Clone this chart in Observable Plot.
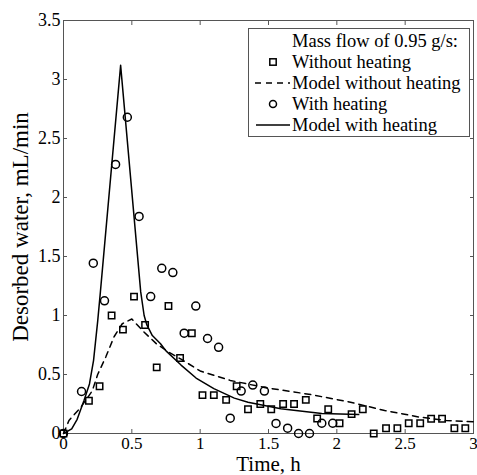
<!DOCTYPE html>
<html><head><meta charset="utf-8">
<script src="https://cdn.jsdelivr.net/npm/d3@7"></script>
<script src="https://cdn.jsdelivr.net/npm/@observablehq/plot@0.6"></script>
<style>
html,body{margin:0;padding:0;background:#fff;}
#wrap{position:relative;width:477px;height:475px;}
#legend{position:absolute;left:248px;top:28px;}
</style></head>
<body><div id="wrap"><div id="legend"></div></div>
<script>
// Without heating (squares)
const tSquares = [0, 0.186, 0.264, 0.352, 0.435, 0.516, 0.597, 0.682, 0.768, 0.853, 0.939, 1.017, 1.10, 1.19, 1.267, 1.35, 1.44, 1.52, 1.607, 1.687, 1.773, 1.856, 1.937, 2.02, 2.108, 2.19, 2.27, 2.36, 2.443, 2.526, 2.61, 2.69, 2.77, 2.86, 2.94];
const vSquares = [0, 0.277, 0.40, 1.0, 0.88, 1.16, 0.92, 0.56, 1.08, 0.64, 0.85, 0.325, 0.325, 0.285, 0.40, 0.206, 0.25, 0.206, 0.25, 0.25, 0.285, 0.127, 0.206, 0.087, 0.164, 0.206, 0.0, 0.045, 0.045, 0.087, 0.087, 0.125, 0.125, 0.045, 0.045];
// With heating (circles)
const tCircles = [0, 0.132, 0.218, 0.30, 0.381, 0.467, 0.553, 0.638, 0.719, 0.80, 0.883, 0.968, 1.054, 1.135, 1.22, 1.30, 1.385, 1.47, 1.555, 1.64, 1.72, 1.80, 1.89, 1.97];
const vCircles = [0, 0.356, 1.443, 1.124, 2.28, 2.68, 1.84, 1.16, 1.40, 1.364, 0.85, 1.08, 0.805, 0.73, 0.13, 0.36, 0.41, 0.36, 0.085, 0.045, 0.0, 0.0, 0.087, 0.087];
// Model without heating (dashed)
const tModelNo = [0, 0.04, 0.125, 0.21, 0.25, 0.31, 0.37, 0.43, 0.50, 0.58, 0.68, 0.77, 0.86, 1.0, 1.22, 1.47, 1.81, 2.1, 2.35, 2.6, 2.8, 3.0];
const vModelNo = [0, 0.11, 0.22, 0.36, 0.50, 0.65, 0.82, 0.93, 0.97, 0.87, 0.76, 0.69, 0.63, 0.53, 0.45, 0.39, 0.33, 0.265, 0.195, 0.14, 0.11, 0.10];
// Model with heating (solid)
const tModelHeat = [0, 0.06, 0.10, 0.15, 0.19, 0.22, 0.25, 0.27, 0.418, 0.565, 0.59, 0.61, 0.65, 0.71, 0.75, 0.86, 0.97, 1.10, 1.25, 1.35, 1.59, 1.89, 2.16];
const vModelHeat = [0, 0.04, 0.12, 0.28, 0.42, 0.62, 0.95, 1.20, 3.12, 1.20, 1.0, 0.92, 0.83, 0.76, 0.70, 0.58, 0.47, 0.38, 0.30, 0.265, 0.21, 0.17, 0.16];

const xTicks = [0, 0.5, 1, 1.5, 2, 2.5, 3];
const xTickLabels = ["0", "0.5", "1", "1.5", "2", "2.5", "3"];
const yTicks = [0, 0.5, 1, 1.5, 2, 2.5, 3, 3.5];
const yTickLabels = ["0", "0.5", "1", "1.5", "2", "2.5", "3", "3.5"];
const xLabel = "Time, h";
const yLabel = "Desorbed water, mL/min";
const legendTitle = "Mass flow of 0.95 g/s:";
const legendLabels = ["Without heating", "Model without heating", "With heating", "Model with heating"];

const FONT = "Liberation Serif";
const AX = "#555";

const plot = Plot.plot({
  width: 477, height: 475,
  marginLeft: 63, marginRight: 4, marginTop: 20, marginBottom: 42,
  style: {fontFamily: FONT, fontSize: "18px", background: "#fff", color: "#000"},
  x: {domain: [0, 3]},
  y: {domain: [0, 3.5]},
  marks: [
    Plot.frame({stroke: AX, strokeWidth: 1}),
    Plot.axisX(xTicks, {anchor: "bottom", tickSize: -4, tickPadding: 7, fontSize: 17, stroke: AX, fill: "#000",
      tickFormat: d => xTickLabels[xTicks.indexOf(d)], label: null}),
    Plot.axisX(xTicks, {anchor: "top", tickSize: -4, stroke: AX, tickFormat: () => "", label: null}),
    Plot.axisY(yTicks, {anchor: "left", tickSize: -4, tickPadding: 7, stroke: AX, fill: "#000",
      tickFormat: d => yTickLabels[yTicks.indexOf(d)], label: null}),
    Plot.axisY(yTicks, {anchor: "right", tickSize: -4, stroke: AX, tickFormat: () => "", label: null}),
    Plot.line(vModelNo, {x: tModelNo, y: vModelNo, stroke: "#000", strokeWidth: 1.5, strokeDasharray: "6,5"}),
    Plot.line(vModelHeat, {x: tModelHeat, y: vModelHeat, stroke: "#000", strokeWidth: 1.5}),
    Plot.dot(vSquares, {x: tSquares, y: vSquares, symbol: "square", r: 3.6, stroke: "#000", strokeWidth: 1.5, fill: "none"}),
    Plot.dot(vCircles, {x: tCircles, y: vCircles, symbol: "circle", r: 4, stroke: "#000", strokeWidth: 1.5, fill: "none"}),
    Plot.text([xLabel], {frameAnchor: "bottom", textAnchor: "middle", lineAnchor: "bottom", dy: 37.5, fontSize: 21, fill: "#000"}),
    Plot.text([yLabel], {frameAnchor: "left", textAnchor: "middle", rotate: -90, lineAnchor: "bottom", dx: -36, fontSize: 23, fill: "#000"})
  ]
});
document.getElementById("wrap").prepend(plot);

// Legend (inside plot area, as overlay)
const lw = 222, lh = 109;
const lg = d3.select("#legend").append("svg").attr("width", lw).attr("height", lh)
  .style("font-family", FONT).style("font-size", "18.5px");
lg.append("rect").attr("x", 0.5).attr("y", 0.5).attr("width", lw - 1).attr("height", lh - 1)
  .attr("fill", "#fff").attr("stroke", AX);
const rows = [legendTitle, ...legendLabels];
const baseY = i => 19 + 21 * i;
lg.selectAll("text").data(rows).join("text").attr("x", 44).attr("y", (d, i) => baseY(i)).text(d => d);
const cy = i => baseY(i) - 6;
lg.append("rect").attr("x", 25 - 3.2).attr("y", cy(1) - 3.2).attr("width", 6.4).attr("height", 6.4)
  .attr("fill", "none").attr("stroke", "#000").attr("stroke-width", 1.5);
lg.append("line").attr("x1", 7).attr("x2", 42).attr("y1", cy(2)).attr("y2", cy(2))
  .attr("stroke", "#000").attr("stroke-width", 1.5).attr("stroke-dasharray", "6,5");
lg.append("circle").attr("cx", 25).attr("cy", cy(3)).attr("r", 3.5)
  .attr("fill", "none").attr("stroke", "#000").attr("stroke-width", 1.5);
lg.append("line").attr("x1", 8).attr("x2", 42).attr("y1", cy(4)).attr("y2", cy(4))
  .attr("stroke", "#000").attr("stroke-width", 1.5);
</script>
</body></html>
